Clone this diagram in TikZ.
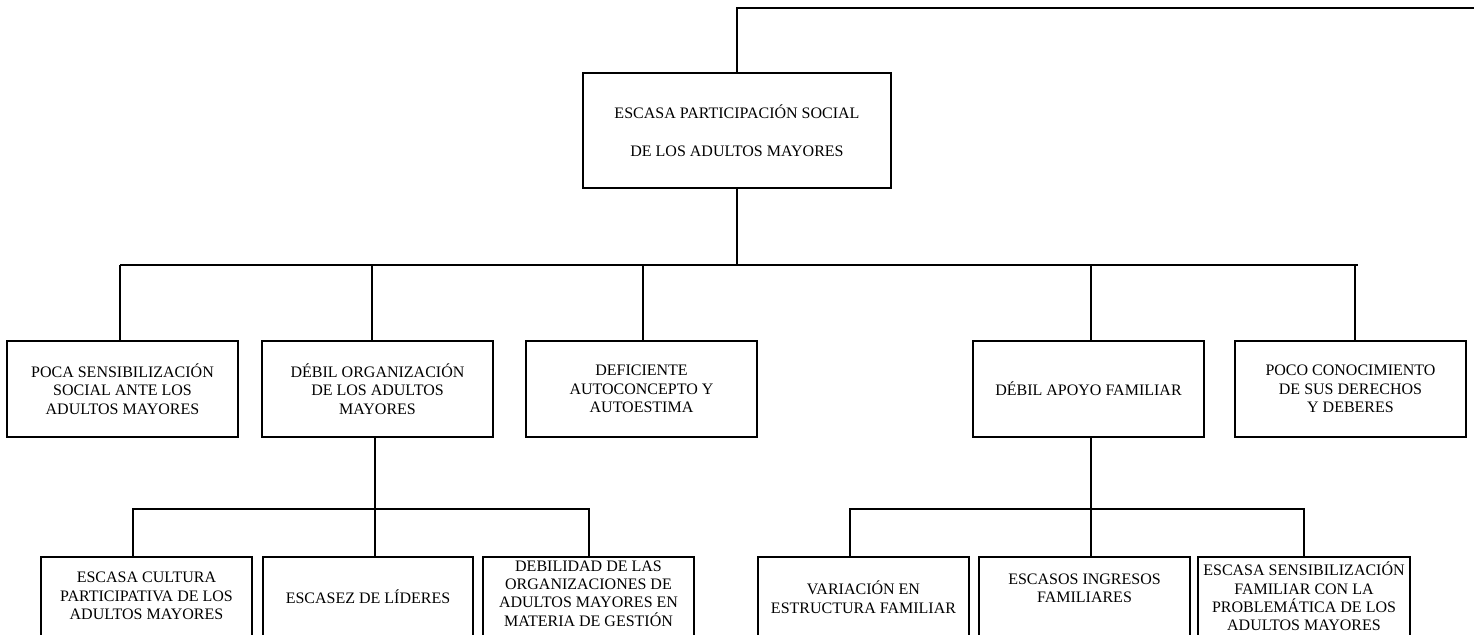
\documentclass[tikz,border=0pt]{standalone}
\usepackage{fontspec}
\setmainfont{Liberation Serif}
\begin{document}
\begin{tikzpicture}[x=0.5pt,y=-0.5pt,line width=1pt,
  lv/.style={draw,line width=1pt,inner sep=0pt,align=center,
    font=\fontsize{8pt}{9.3pt}\selectfont,minimum height=48pt,minimum width=115.5pt},
  bb/.style={draw,line width=1pt,inner sep=0pt,minimum height=44pt},
  tx/.style={inner sep=0pt,align=center,font=\fontsize{8pt}{9.2pt}\selectfont}]
\useasboundingbox (0,0) rectangle (1474,634);
\clip (0,0) rectangle (1474,634);
% top
\node[lv,minimum width=154pt,minimum height=57.5pt,font=\fontsize{8pt}{19pt}\selectfont] (top) at (737,130.5)
  {ESCASA PARTICIPACIÓN SOCIAL\\DE LOS ADULTOS MAYORES};
% level 2
\node[lv] (n1) at (122.5,389) {POCA SENSIBILIZACIÓN\\SOCIAL ANTE LOS\\ADULTOS MAYORES};
\node[lv] (n2) at (377.5,389) {DÉBIL ORGANIZACIÓN\\DE LOS ADULTOS\\MAYORES};
\node[lv] (n3) at (641.5,389) {DEFICIENTE\\AUTOCONCEPTO Y\\AUTOESTIMA};
\node[lv] (n4) at (1088.5,389) {DÉBIL APOYO FAMILIAR};
\node[lv] (n5) at (1350.5,389) {POCO CONOCIMIENTO\\DE SUS DERECHOS\\Y DEBERES};
% level 3 boxes
\node[bb,minimum width=105.5pt] (A) at (146.5,601) {};
\node[bb,minimum width=105pt] (B) at (368,601) {};
\node[bb,minimum width=105.5pt] (C) at (588.5,601) {};
\node[bb,minimum width=105.5pt] (D) at (863.5,601) {};
\node[bb,minimum width=105.5pt] (E) at (1084.5,601) {};
\node[bb,minimum width=106pt] (F) at (1304,601) {};
% level 3 texts
\node[tx] (At) at (146.5,596) {ESCASA CULTURA\\PARTICIPATIVA DE LOS\\ADULTOS MAYORES};
\node[tx] (Bt) at (368,597) {ESCASEZ DE LÍDERES};
\node[tx] (Ct) at (588.5,593.5) {DEBILIDAD DE LAS\\ORGANIZACIONES DE\\ADULTOS MAYORES EN\\MATERIA DE GESTIÓN};
\node[tx] (Dt) at (863.5,597) {VARIACIÓN EN\\ESTRUCTURA FAMILIAR};
\node[tx] (Et) at (1084.5,588) {ESCASOS INGRESOS\\FAMILIARES};
\node[tx] (Ft) at (1304,596.5) {ESCASA SENSIBILIZACIÓN\\FAMILIAR CON LA\\PROBLEMÁTICA DE LOS\\ADULTOS MAYORES};
% connectors
\coordinate (tend) at (1474,8);
\coordinate (j1) at (737,265);
\coordinate (j1r) at (1358,265);
\coordinate (j2) at (375,509);
\coordinate (j3) at (1091,509);
\draw (top.north) -- (top.north |- tend) -- (tend);
\draw (top.south) -- (j1);
\draw ([xshift=-1.25pt]n1.north |- j1) -- (j1r);
\draw ([xshift=-1.25pt]n1.north) -- ([xshift=-1.25pt]n1.north |- j1);
\draw ([xshift=-2.75pt]n2.north) -- ([xshift=-2.75pt]n2.north |- j1);
\draw ([xshift=0.75pt]n3.north) -- ([xshift=0.75pt]n3.north |- j1);
\draw ([xshift=1.25pt]n4.north) -- ([xshift=1.25pt]n4.north |- j1);
\draw ([xshift=2.25pt]n5.north) -- ([xshift=2.25pt]n5.north |- j1);
% left subtree
\draw ([xshift=-1.25pt]n2.south) -- ([xshift=-1.25pt]n2.south |- B.north);
\draw ([xshift=-6.75pt]A.north) -- ([xshift=-6.75pt]A.north |- j2) -- (C.north |- j2) -- (C.north);
% right subtree
\draw ([xshift=1.25pt]n4.south) -- ([xshift=1.25pt]n4.south |- E.north);
\draw ([xshift=-6.75pt]D.north) -- ([xshift=-6.75pt]D.north |- j3) -- (F.north |- j3) -- (F.north);
\end{tikzpicture}
\end{document}
